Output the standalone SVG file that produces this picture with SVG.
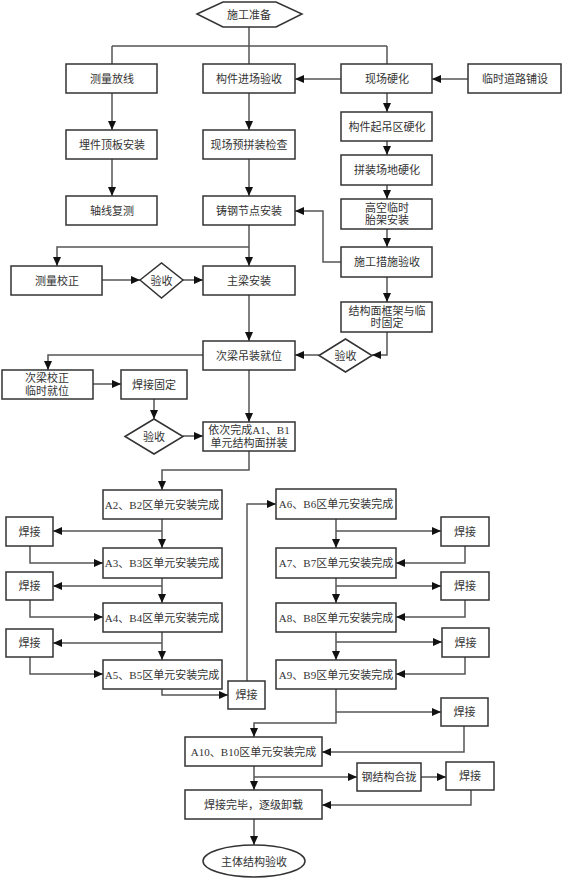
<svg xmlns="http://www.w3.org/2000/svg" width="564" height="881" viewBox="0 0 564 881">
<style>
.b{fill:#fff;stroke:#333;stroke-width:1.5}
.l{fill:none;stroke:#555;stroke-width:1.5}
.a{marker-end:url(#ah)}
.t{font-family:"Liberation Serif","Noto Sans CJK SC",serif;font-size:11px;fill:#333;text-anchor:middle;dominant-baseline:central}
</style>
<defs>
<marker id="ah" markerUnits="userSpaceOnUse" markerWidth="9" markerHeight="8" refX="9" refY="4" orient="auto">
<path d="M0,0 L9,4 L0,8 z" fill="#111"/>
</marker>
</defs>
<rect width="564" height="881" fill="#fff"/>
<g id="connectors">
<path class="l" d="M249,27 V46 M112,46 H387 M112,46 V64 M249,46 V64 M387,46 V64"/>
<path class="l a" d="M341,79 H295"/>
<path class="l a" d="M468,79 H432"/>
<path class="l a" d="M112,93 V130"/>
<path class="l a" d="M112,159 V196"/>
<path class="l a" d="M249,93 V130"/>
<path class="l a" d="M249,159 V196"/>
<path class="l a" d="M387,93 V112"/>
<path class="l a" d="M387,141 V155"/>
<path class="l a" d="M387,185 V199"/>
<path class="l a" d="M387,229 V247"/>
<path class="l a" d="M387,277 V302"/>
<path class="l a" d="M341,262 H323 V211 H295"/>
<path class="l a" d="M249,225 V266"/>
<path class="l a" d="M249,247 H57 V266"/>
<path class="l a" d="M102,280 H140"/>
<path class="l a" d="M183,280 H203"/>
<path class="l a" d="M249,295 V341"/>
<path class="l a" d="M387,332 V355 H372"/>
<path class="l a" d="M319,355 H295"/>
<path class="l a" d="M203,355 H48 V370"/>
<path class="l a" d="M93,384 H121"/>
<path class="l a" d="M154,399 V419"/>
<path class="l a" d="M183,436 H203"/>
<path class="l a" d="M249,370 V422"/>
<path class="l a" d="M249,451 V470 H162 V490"/>
<path class="l a" d="M162,519 V548"/>
<path class="l a" d="M162,531 H53"/>
<path class="l a" d="M30,546 V563 H103"/>
<path class="l a" d="M162,578 V603"/>
<path class="l a" d="M162,586 H53"/>
<path class="l a" d="M30,600 V617 H103"/>
<path class="l a" d="M162,632 V660"/>
<path class="l a" d="M162,643 H53"/>
<path class="l a" d="M30,657 V674 H103"/>
<path class="l a" d="M162,689 V695 H228"/>
<path class="l a" d="M247,681 V504 H276"/>
<path class="l a" d="M336,519 V548"/>
<path class="l a" d="M336,531 H441"/>
<path class="l a" d="M465,546 V563 H396"/>
<path class="l a" d="M336,578 V603"/>
<path class="l a" d="M336,586 H441"/>
<path class="l a" d="M465,600 V617 H396"/>
<path class="l a" d="M336,632 V660"/>
<path class="l a" d="M336,642 H442"/>
<path class="l a" d="M465,657 V674 H396"/>
<path class="l a" d="M336,689 V723 H254 V737"/>
<path class="l a" d="M336,712 H441"/>
<path class="l a" d="M464,726 V752 H322"/>
<path class="l a" d="M254,766 V790"/>
<path class="l a" d="M254,777 H357"/>
<path class="l a" d="M421,777 H446"/>
<path class="l a" d="M471,790 V805 H322"/>
<path class="l a" d="M254,819 V845"/>
</g>
<g id="n-start"><polygon class="b" points="197,14 223,2 276,2 302,14 276,27 223,27"/><text class="t" x="249" y="15">施工准备</text></g>
<g id="n-clfx"><rect class="b" x="66" y="64" width="91" height="29"/><text class="t" x="112" y="79">测量放线</text></g>
<g id="n-gjjc"><rect class="b" x="203" y="64" width="92" height="29"/><text class="t" x="249" y="79">构件进场验收</text></g>
<g id="n-xcyh"><rect class="b" x="341" y="64" width="91" height="29"/><text class="t" x="387" y="79">现场硬化</text></g>
<g id="n-lsdl"><rect class="b" x="468" y="64" width="93" height="29"/><text class="t" x="515" y="79">临时道路铺设</text></g>
<g id="n-mjdb"><rect class="b" x="66" y="130" width="91" height="29"/><text class="t" x="112" y="145">埋件顶板安装</text></g>
<g id="n-xcyp"><rect class="b" x="203" y="130" width="92" height="29"/><text class="t" x="249" y="145">现场预拼装检查</text></g>
<g id="n-gjqd"><rect class="b" x="341" y="112" width="91" height="29"/><text class="t" x="387" y="127">构件起吊区硬化</text></g>
<g id="n-pzcd"><rect class="b" x="341" y="155" width="91" height="30"/><text class="t" x="387" y="170">拼装场地硬化</text></g>
<g id="n-zxfc"><rect class="b" x="66" y="196" width="91" height="29"/><text class="t" x="112" y="211">轴线复测</text></g>
<g id="n-zgjd"><rect class="b" x="203" y="196" width="92" height="29"/><text class="t" x="249" y="211">铸钢节点安装</text></g>
<g id="n-gkls"><rect class="b" x="341" y="199" width="91" height="30"/><text class="t" x="387" y="208">高空临时</text><text class="t" x="387" y="220">胎架安装</text></g>
<g id="n-sgcs"><rect class="b" x="341" y="247" width="91" height="30"/><text class="t" x="387" y="262">施工措施验收</text></g>
<g id="n-cljz"><rect class="b" x="11" y="266" width="91" height="29"/><text class="t" x="57" y="281">测量校正</text></g>
<g id="n-ys1"><polygon class="b" points="140,280 161.5,263 183,280 161.5,298"/><text class="t" x="161.5" y="281">验收</text></g>
<g id="n-zlaz"><rect class="b" x="203" y="266" width="92" height="29"/><text class="t" x="249" y="281">主梁安装</text></g>
<g id="n-jgmk"><rect class="b" x="341" y="302" width="91" height="30"/><text class="t" x="387" y="311">结构面框架与临</text><text class="t" x="387" y="323">时固定</text></g>
<g id="n-ys2"><polygon class="b" points="319,355.5 345.5,339 372,355.5 345.5,372"/><text class="t" x="345.5" y="356">验收</text></g>
<g id="n-cldz"><rect class="b" x="203" y="341" width="92" height="29"/><text class="t" x="249" y="356">次梁吊装就位</text></g>
<g id="n-cljz2"><rect class="b" x="2" y="370" width="91" height="29"/><text class="t" x="47" y="378">次梁校正</text><text class="t" x="47" y="391">临时就位</text></g>
<g id="n-hjgd"><rect class="b" x="121" y="370" width="66" height="29"/><text class="t" x="154" y="385">焊接固定</text></g>
<g id="n-ys3"><polygon class="b" points="125,436.5 154,419 183,436.5 154,454"/><text class="t" x="154" y="437">验收</text></g>
<g id="n-ycwc"><rect class="b" x="203" y="422" width="92" height="29"/><text class="t" x="249" y="430">依次完成A1、B1</text><text class="t" x="249" y="443">单元结构面拼装</text></g>
<g id="n-a2"><rect class="b" x="103" y="490" width="119" height="29"/><text class="t" x="162" y="505">A2、B2区单元安装完成</text></g>
<g id="n-a3"><rect class="b" x="103" y="548" width="119" height="30"/><text class="t" x="162" y="563">A3、B3区单元安装完成</text></g>
<g id="n-a4"><rect class="b" x="103" y="603" width="119" height="29"/><text class="t" x="162" y="618">A4、B4区单元安装完成</text></g>
<g id="n-a5"><rect class="b" x="103" y="660" width="119" height="29"/><text class="t" x="162" y="675">A5、B5区单元安装完成</text></g>
<g id="n-hj1"><rect class="b" x="6" y="517" width="47" height="29"/><text class="t" x="29.5" y="532">焊接</text></g>
<g id="n-hj2"><rect class="b" x="6" y="572" width="47" height="28"/><text class="t" x="29.5" y="586">焊接</text></g>
<g id="n-hj3"><rect class="b" x="6" y="629" width="47" height="28"/><text class="t" x="29.5" y="643">焊接</text></g>
<g id="n-hj4"><rect class="b" x="228" y="681" width="37" height="28"/><text class="t" x="246.5" y="695">焊接</text></g>
<g id="n-a6"><rect class="b" x="276" y="489" width="120" height="30"/><text class="t" x="336" y="504">A6、B6区单元安装完成</text></g>
<g id="n-a7"><rect class="b" x="276" y="548" width="120" height="30"/><text class="t" x="336" y="563">A7、B7区单元安装完成</text></g>
<g id="n-a8"><rect class="b" x="276" y="603" width="120" height="29"/><text class="t" x="336" y="618">A8、B8区单元安装完成</text></g>
<g id="n-a9"><rect class="b" x="276" y="660" width="120" height="29"/><text class="t" x="336" y="675">A9、B9区单元安装完成</text></g>
<g id="n-hj5"><rect class="b" x="441" y="517" width="48" height="29"/><text class="t" x="465" y="532">焊接</text></g>
<g id="n-hj6"><rect class="b" x="441" y="572" width="48" height="28"/><text class="t" x="465" y="586">焊接</text></g>
<g id="n-hj7"><rect class="b" x="442" y="628" width="47" height="29"/><text class="t" x="465.5" y="643">焊接</text></g>
<g id="n-hj8"><rect class="b" x="441" y="698" width="47" height="28"/><text class="t" x="464.5" y="712">焊接</text></g>
<g id="n-a10"><rect class="b" x="185" y="737" width="137" height="29"/><text class="t" x="253.5" y="752">A10、B10区单元安装完成</text></g>
<g id="n-gjhl"><rect class="b" x="357" y="763" width="64" height="28"/><text class="t" x="389" y="777">钢结构合拢</text></g>
<g id="n-hj9"><rect class="b" x="446" y="762" width="48" height="28"/><text class="t" x="470" y="776">焊接</text></g>
<g id="n-hjwb"><rect class="b" x="185" y="790" width="137" height="29"/><text class="t" x="253.5" y="805">焊接完毕，逐级卸载</text></g>
<g id="n-end"><ellipse class="b" cx="254" cy="861" rx="51" ry="16"/><text class="t" x="254" y="862">主体结构验收</text></g>
</svg>
